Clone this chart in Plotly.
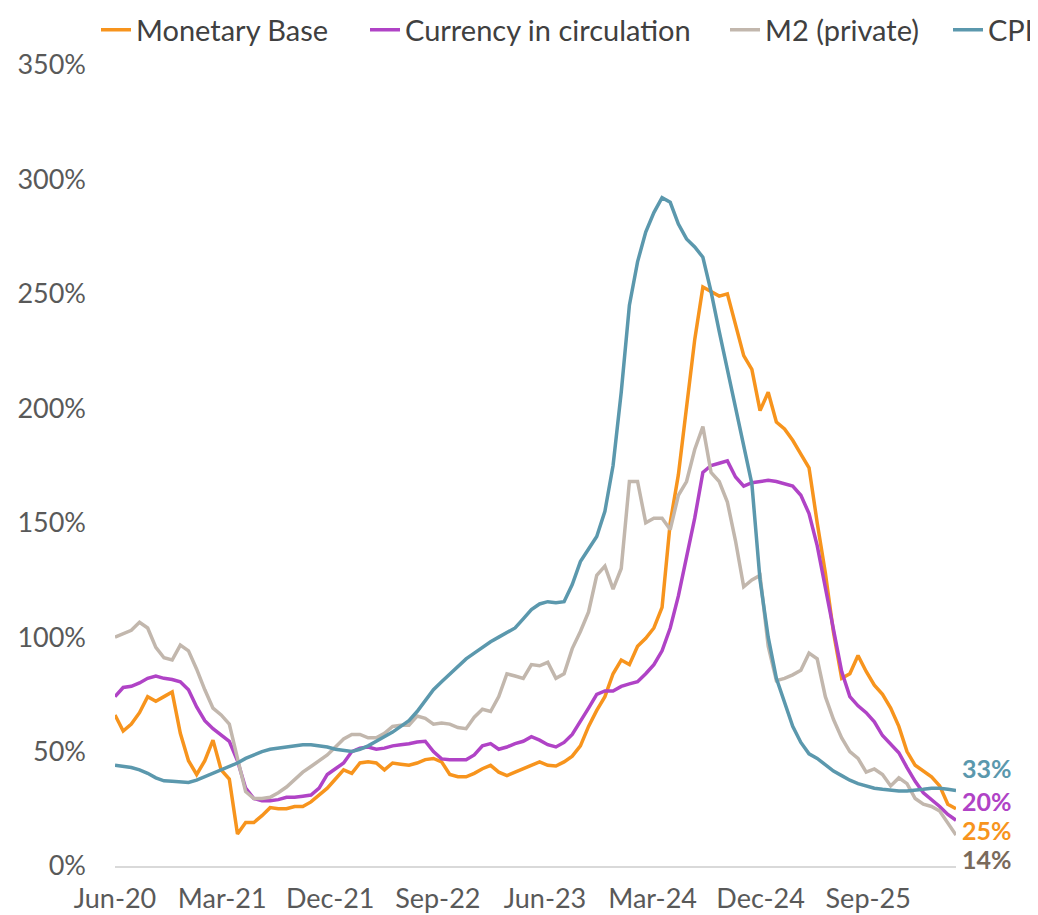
import pandas as pd
import plotly.graph_objects as go

# readings taken about every three weeks from June 2020 to April 2026
dates = pd.date_range('2020-06-01', periods=104, freq='499h')

monetary_base = [66, 59, 62, 67, 74, 72, 74, 76, 58, 46, 40, 46, 55, 42, 38, 14, 19, 19, 22, 25.5,
                 25, 25, 26, 26, 28, 31, 34, 38, 42, 40.5, 45, 45.5, 45, 42, 45, 44.5, 44, 45, 46.5, 47,
                 45.5, 40, 39, 39, 40.5, 42.5, 44, 41, 39.5, 41, 42.5, 44, 45.5, 44, 43.7, 45.5, 48, 52.5, 61, 68,
                 74, 84, 90, 88, 96, 99.5, 104, 113, 150, 171, 200, 230, 253, 251, 249, 250, 236, 223, 217, 199,
                 207, 194, 191, 186, 180, 174, 150, 128, 102, 82, 84, 92, 85, 79, 75, 69, 61, 50, 44, 41.5,
                 39, 35, 27, 25]

currency = [74, 78, 78.5, 80, 82, 83, 82, 81.5, 80.5, 77, 69.5, 63.5, 60, 57, 54.5, 46, 34, 29.5, 28.5, 28.5,
            29, 30, 30, 30.5, 31, 34, 40, 42.5, 45, 50, 51.5, 52, 51, 51.5, 52.5, 53, 53.4, 54.2, 54.5, 50,
            46.8, 46.4, 46.4, 46.4, 48.5, 52.5, 53.5, 51, 52, 53.5, 54.5, 56.5, 55, 53, 52, 54, 57.5, 63, 69, 75,
            76.5, 76.5, 78.5, 79.6, 80.5, 84, 88, 94, 104, 118, 135, 152, 172, 175, 176, 177, 170, 166, 167.5, 168,
            168.5, 168, 167, 166, 162, 154, 140, 121, 103, 85, 74, 70, 67, 63, 57, 53, 49.5, 43, 37, 32,
            29, 26, 22.5, 20]

m2_private = [100, 101.5, 103, 106.5, 104, 95.5, 91, 90, 96.5, 94, 86, 77, 69, 66, 62, 47, 32.5, 29.5, 29.5, 30,
              32, 34.5, 38, 41, 43.5, 46, 48.5, 52, 55.5, 57.5, 57.5, 56, 56, 58, 61, 61.5, 61.5, 65.5, 64.5, 62,
              62.5, 62, 60.5, 60, 65, 68.5, 67.5, 74, 84, 83, 82, 88, 87.5, 89, 82, 84, 95, 102.5, 111, 127,
              131, 121, 130, 168, 168, 150, 152, 152, 147, 162, 168, 182, 192, 172, 168, 159, 142, 122, 125, 127,
              96, 81, 82, 83.5, 85.5, 93, 90.5, 74, 64, 56, 50, 47, 41, 42.4, 40, 35, 38.5, 36, 29.5, 27,
              26, 24, 19, 13.5]

cpi = [44, 43.5, 43, 42, 40.5, 38.5, 37.2, 37, 36.8, 36.5, 37.5, 39, 40.5, 42, 43.5, 45, 47, 48.5, 50, 51,
       51.5, 52, 52.5, 53, 53, 52.5, 52, 51, 50.5, 50, 51, 52.5, 54.5, 56.5, 58.5, 61, 63.5, 67.5, 72, 77,
       80.5, 84, 87.5, 90.5, 93, 95.5, 98, 100, 102, 104, 108, 112, 114.5, 115.5, 115, 115.5, 123, 133, 138.5, 144,
       155, 175, 207, 245, 264, 277, 285.5, 292, 290, 280.5, 274, 270.5, 266, 251, 233.6, 217, 201, 184, 167, 125,
       100, 82, 71, 61, 54, 49, 47, 44, 41.5, 39.5, 37.5, 36, 35, 34, 33.5, 33, 32.8, 32.8, 33, 33.5,
       34, 34, 33.5, 33]

series = [
    ('Monetary Base', monetary_base, '#F7941D'),
    ('Currency in circulation', currency, '#B043C6'),
    ('M2 (private)', m2_private, '#C2B7AD'),
    ('CPI', cpi, '#5B98AD'),
]

end_labels = ['25%', '20%', '14%', '33%']
end_colors = ['#F7941D', '#B043C6', '#7A6A5B', '#5B98AD']

font_family = 'Lato, Roboto, sans-serif'

fig = go.Figure()

legend_names = ['legend', 'legend2', 'legend3', 'legend4']
for (name, vals, color), lg in zip(series, legend_names):
    fig.add_trace(go.Scatter(
        x=dates, y=vals, mode='lines', name=name,
        line=dict(color=color, width=3.5),
        legend=lg,
    ))

# one legend per entry so the spacing can follow the original
legend_x = [88, 357, 717, 940]
legend_cfg = {}
for lg, lx in zip(legend_names, legend_x):
    legend_cfg[lg] = dict(
        orientation='h', xref='container', yref='container',
        x=lx / 1038, y=1 - 22 / 915, xanchor='left', yanchor='middle',
        font=dict(family=font_family, size=29, color='#404040'),
        bgcolor='rgba(0,0,0,0)',
    )

# end value labels on the right
label_y = [15.8, 28.5, 3.0, 42.8]
annotations = []
for txt, col, ly in zip(end_labels, end_colors, label_y):
    annotations.append(dict(
        xref='paper', yref='y', x=1, y=ly, xanchor='left', yanchor='middle',
        xshift=4, text='<b>' + txt + '</b>', showarrow=False,
        font=dict(family=font_family, size=25, color=col),
    ))

fig.update_layout(
    width=1038, height=915,
    margin=dict(l=107, r=90, t=57, b=57, autoexpand=False),
    plot_bgcolor='white', paper_bgcolor='white',
    font=dict(family=font_family, size=27, color='#595959'),
    annotations=annotations,
    showlegend=True,
    **legend_cfg,
)

fig.update_xaxes(
    range=[dates[0], dates[-1]], tick0='2020-06-01', dtick='M9', tickformat='%b-%y',
    showgrid=False, zeroline=False, showline=True, linecolor='#D9D9D9', linewidth=2,
    ticks='', ticklabelstandoff=8, tickangle=0,
)
fig.update_yaxes(
    range=[0, 350], dtick=50, ticksuffix='%', showgrid=False, zeroline=False,
    showline=False, ticks='', ticklabelstandoff=28,
)

fig.write_html('out.html')
